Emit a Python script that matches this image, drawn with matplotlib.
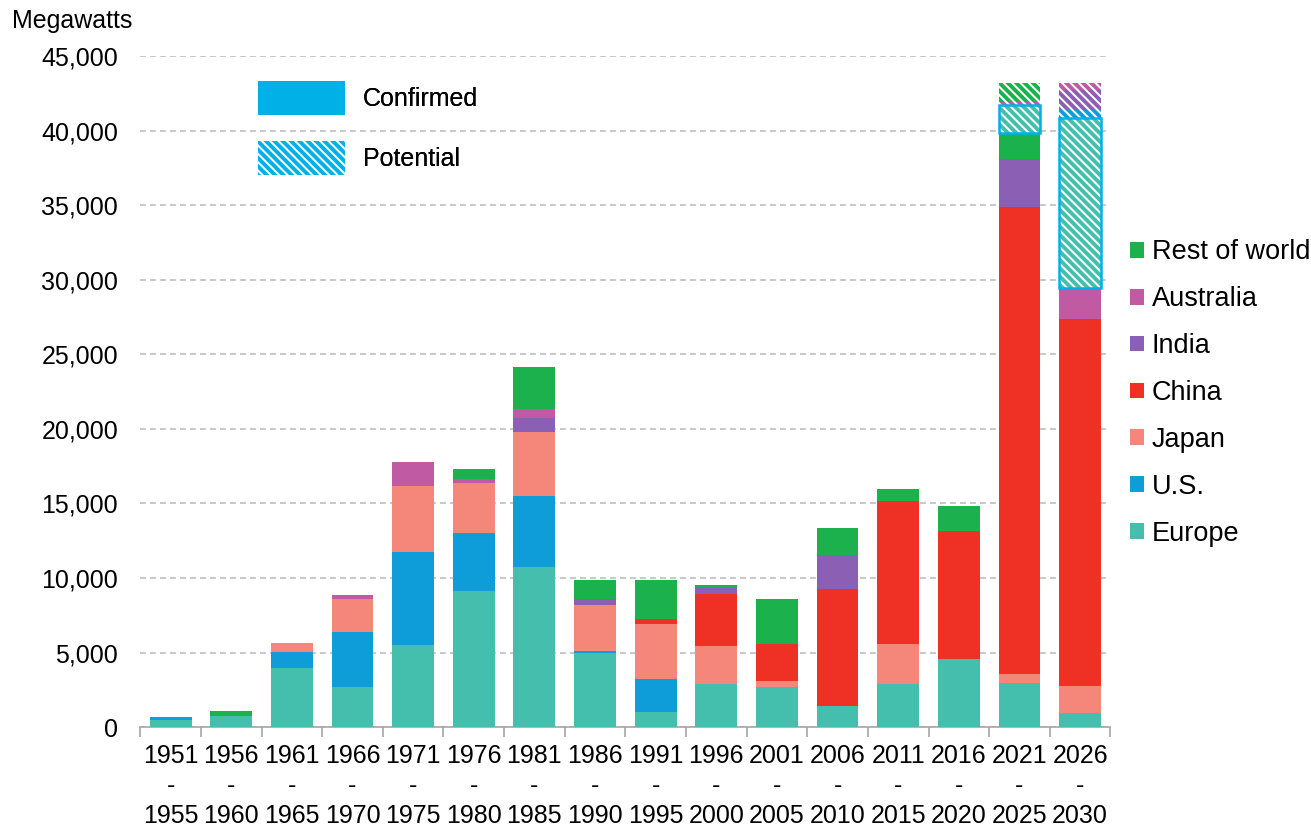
import numpy as np
import matplotlib
matplotlib.use("Agg")
import matplotlib.pyplot as plt
from matplotlib.patches import Patch

plt.rcParams["font.family"] = ["Liberation Sans", "DejaVu Sans"]
plt.rcParams["hatch.linewidth"] = 2.8

# period labels
periods = ["1951\n-\n1955", "1956\n-\n1960", "1961\n-\n1965", "1966\n-\n1970",
           "1971\n-\n1975", "1976\n-\n1980", "1981\n-\n1985", "1986\n-\n1990",
           "1991\n-\n1995", "1996\n-\n2000", "2001\n-\n2005", "2006\n-\n2010",
           "2011\n-\n2015", "2016\n-\n2020", "2021\n-\n2025", "2026\n-\n2030"]

# confirmed capacity (MW)
europe    = [450, 750, 3950, 2680, 5500, 9150, 10740, 4990, 1000, 2910, 2680, 1410, 2890, 4560, 2950, 920]
us        = [220, 80, 1080, 3690, 6260, 3890, 4760, 110, 2220, 0, 0, 0, 0, 0, 0, 0]
japan     = [0, 0, 610, 2240, 4430, 3350, 4310, 3090, 3690, 2530, 410, 0, 2680, 0, 625, 1810]
china     = [0, 0, 0, 0, 0, 0, 0, 0, 340, 3480, 2480, 7850, 9590, 8590, 31285, 24660]
india     = [0, 0, 0, 0, 0, 0, 940, 400, 0, 410, 0, 2280, 0, 0, 3230, 0]
australia = [0, 0, 0, 230, 1570, 250, 560, 0, 0, 0, 0, 0, 0, 0, 0, 2030]
row       = [0, 250, 0, 0, 0, 690, 2820, 1270, 2610, 200, 3020, 1810, 810, 1680, 1750, 0]

# potential capacity (MW)
europe_pot    = [0] * 14 + [1850, 11440]
us_pot        = [0] * 14 + [0, 510]
japan_pot     = [0] * 16
china_pot     = [0] * 16
india_pot     = [0] * 14 + [0, 1330]
australia_pot = [0] * 14 + [220, 520]
row_pot       = [0] * 14 + [1310, 0]

names = ["Europe", "U.S.", "Japan", "China", "India", "Australia", "Rest of world"]
colors = ["#45bfad", "#0f9dd9", "#f4877a", "#ee3124", "#8a5fb4", "#c05aa3", "#1bb14c"]
confirmed = [europe, us, japan, china, india, australia, row]
potential = [europe_pot, us_pot, japan_pot, china_pot, india_pot, australia_pot, row_pot]
blue_edge = "#00b0e6"
hatch = "\\\\\\\\"
fs = 18

fig = plt.figure(figsize=(13.11, 8.30), dpi=100)
ax = fig.add_axes([0.107, 0.124, 0.740, 0.8085])

x = np.arange(len(periods))
w = 0.69
bottom = np.zeros(len(periods))
for vals, c in zip(confirmed, colors):
    v = np.array(vals, dtype=float)
    ax.bar(x, v, w, bottom=bottom, color=c, linewidth=0, zorder=3)
    bottom += v

for i, (vals, c) in enumerate(zip(potential, colors)):
    v = np.array(vals, dtype=float)
    m = v > 0
    if not m.any():
        continue
    ax.bar(x[m], v[m], w, bottom=bottom[m], facecolor="white", edgecolor=c,
           hatch=hatch, linewidth=0, zorder=3)
    if i == 0:
        ax.bar(x[m], v[m], w, bottom=bottom[m], fill=False, edgecolor=blue_edge,
               linewidth=1.8, zorder=4)
    bottom += v

ax.set_xlim(-0.5, len(periods) - 0.5)
ax.set_ylim(0, 45000)
ax.set_yticks(np.arange(0, 45001, 5000))
ax.set_yticklabels([f"{t:,}" for t in range(0, 45001, 5000)])
ax.set_xticks(x)
ax.set_xticklabels(periods, linespacing=1.33)
ax.set_xticks(np.arange(-0.5, len(periods)), minor=True)
ax.tick_params(axis="x", which="major", length=0, pad=12, labelsize=fs)
ax.tick_params(axis="x", which="minor", length=7, color="#a6a6a6", width=1.2)
ax.tick_params(axis="y", length=0, pad=16, labelsize=fs)

ax.yaxis.grid(True, color="#bdbdbd", linestyle=(0, (3.5, 2.5)), linewidth=1.2, zorder=0)
ax.set_axisbelow(True)
for s in ["left", "right", "top"]:
    ax.spines[s].set_visible(False)
ax.spines["bottom"].set_color("#a6a6a6")
ax.spines["bottom"].set_linewidth(1.2)

fig.text(0.009, 0.975, "Megawatts", fontsize=fs, va="center", ha="left")

# confirmed / potential key
key = ax.legend(handles=[Patch(facecolor=blue_edge, linewidth=0),
                         Patch(facecolor="white", edgecolor=blue_edge, hatch=hatch, linewidth=0)],
                labels=["Confirmed", "Potential"], loc="upper left",
                bbox_to_anchor=(0.1215, 0.963), frameon=False, fontsize=fs,
                handlelength=3.48, handleheight=1.71, handletextpad=0.72,
                labelspacing=1.05, borderpad=0, borderaxespad=0)
ax.add_artist(key)

# region legend
handles = [Patch(facecolor=c, linewidth=0) for c in colors][::-1]
fig.legend(handles=handles, labels=names[::-1], loc="center left",
           bbox_to_anchor=(0.858, 0.5265), frameon=True, facecolor="white",
           edgecolor="none", framealpha=1, fontsize=19.5, handlelength=0.52,
           handleheight=0.52, handletextpad=0.28, labelspacing=0.77,
           borderpad=0.2, borderaxespad=0)

fig.savefig("out.png", dpi=100)
